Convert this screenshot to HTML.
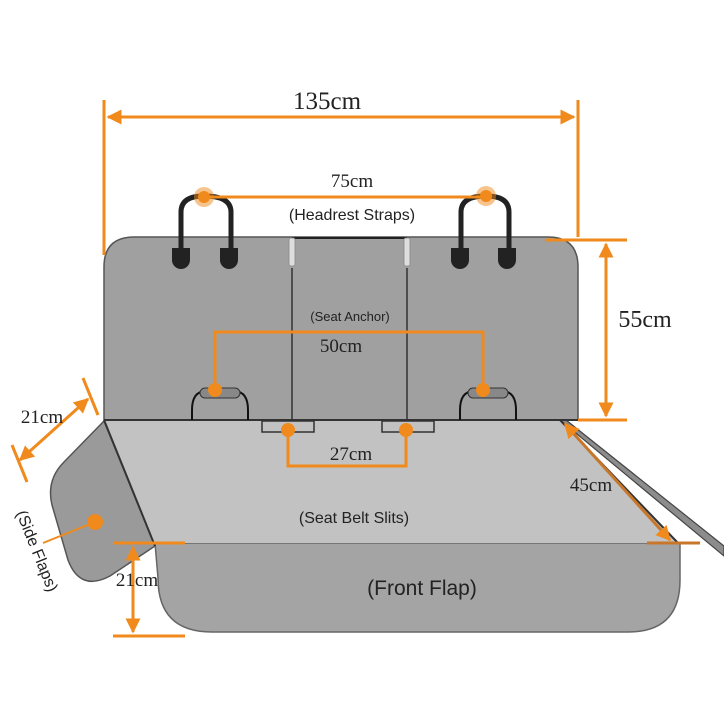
<!DOCTYPE html>
<html><head><meta charset="utf-8"><style>
html,body{margin:0;padding:0;background:#fff;width:724px;height:724px;overflow:hidden}
svg{display:block}
.s{font-family:"Liberation Serif",serif;fill:#222}
.a{font-family:"Liberation Sans","DejaVu Sans",sans-serif;fill:#222}
</style></head><body>
<svg width="724" height="724" viewBox="0 0 724 724" xmlns="http://www.w3.org/2000/svg">
<defs>
<marker id="ar" viewBox="0 0 10 10" refX="9" refY="5" markerWidth="5" markerHeight="5" orient="auto-start-reverse"><path d="M0,0 L10,5 L0,10 z" fill="#f08a1c"/></marker>
</defs>
<!-- right side thin flap -->
<polygon points="560,420 566,420 724,546 724,556" fill="#8c8c8c" stroke="#444" stroke-width="1.2"/>
<!-- left side flap -->
<path d="M104,421 L64,462 Q46,480 52,505 L68,560 Q80,592 110,576 L155,546 Z" fill="#9a9a9a" stroke="#555" stroke-width="1.5"/>
<!-- front flap -->
<path d="M155,543 L680,543 L680,580 Q680,632 628,632 L212,632 Q158,632 158,578 Z" fill="#a4a4a4" stroke="#666" stroke-width="1.5"/>
<!-- seat -->
<polygon points="104,420 560,420 678,543 155,543" fill="#c2c2c2"/>
<line x1="104" y1="420" x2="155" y2="546" stroke="#333" stroke-width="2"/>
<line x1="560" y1="420" x2="678" y2="543" stroke="#333" stroke-width="2"/>
<!-- backrest -->
<path d="M104,420 L104,267 Q104,237 134,237 L548,237 Q578,237 578,267 L578,420 Z" fill="#a0a0a0" stroke="#555" stroke-width="1.5"/>
<line x1="104" y1="420" x2="578" y2="420" stroke="#333" stroke-width="2"/>
<line x1="292" y1="238" x2="407" y2="238" stroke="#222" stroke-width="2"/>
<line x1="292" y1="268" x2="292" y2="420" stroke="#333" stroke-width="1.5"/>
<line x1="407" y1="268" x2="407" y2="420" stroke="#333" stroke-width="1.5"/>
<rect x="289" y="238" width="6" height="28" rx="2" fill="#ddd" stroke="#888" stroke-width="0.8"/>
<rect x="404" y="238" width="6" height="28" rx="2" fill="#ddd" stroke="#888" stroke-width="0.8"/>
<!-- headrest straps -->
<g fill="none" stroke="#222" stroke-width="5">
<path d="M181,252 L181,212 Q181,196 204,196 Q231,196 231,212 L231,252"/>
<path d="M461,252 L461,212 Q461,196 486,196 Q509,196 509,212 L509,252"/>
</g>
<g fill="#222">
<path d="M172,248 h18 v12 a9,9 0 0 1 -18,0 z"/>
<path d="M220,248 h18 v12 a9,9 0 0 1 -18,0 z"/>
<path d="M451,248 h18 v12 a9,9 0 0 1 -18,0 z"/>
<path d="M498,248 h18 v12 a9,9 0 0 1 -18,0 z"/>
</g>
<!-- seat anchor loops -->
<g fill="none" stroke="#111" stroke-width="2">
<path d="M192,420 L192,410 Q192,392 205,391 L235,391 Q248,392 248,410 L248,420"/>
<path d="M460,420 L460,410 Q460,392 473,391 L503,391 Q516,392 516,410 L516,420"/>
</g>
<rect x="200" y="388" width="40" height="10" rx="5" fill="#888" stroke="#333"/>
<rect x="468" y="388" width="40" height="10" rx="5" fill="#888" stroke="#333"/>
<!-- slits -->
<rect x="262" y="421" width="52" height="11" fill="none" stroke="#333" stroke-width="1.5"/>
<rect x="382" y="421" width="52" height="11" fill="none" stroke="#333" stroke-width="1.5"/>
<!-- orange dims -->
<g stroke="#f08a1c" stroke-width="3" fill="none">
<line x1="104" y1="100" x2="104" y2="255"/>
<line x1="578" y1="100" x2="578" y2="237"/>
<line x1="108" y1="117" x2="574" y2="117" marker-start="url(#ar)" marker-end="url(#ar)"/>
<line x1="204" y1="197" x2="486" y2="197"/>
<polyline points="215,390 215,332 483,332 483,390"/>
<polyline points="288,430 288,466 406,466 406,430"/>
<line x1="545" y1="240" x2="627" y2="240"/>
<line x1="578" y1="420" x2="627" y2="420"/>
<line x1="606" y1="244" x2="606" y2="416" marker-start="url(#ar)" marker-end="url(#ar)"/>
<line x1="647" y1="543" x2="700" y2="543" stroke="#c8772a"/>
<line x1="565" y1="424" x2="670" y2="540" stroke="#c8772a" marker-start="url(#ar)" marker-end="url(#ar)"/>
<line x1="83" y1="378" x2="98" y2="415"/>
<line x1="12" y1="445" x2="27" y2="482"/>
<line x1="88" y1="399" x2="20" y2="460" marker-start="url(#ar)" marker-end="url(#ar)"/>
<line x1="113" y1="543" x2="185" y2="543"/>
<line x1="113" y1="636" x2="185" y2="636"/>
<line x1="133" y1="547" x2="133" y2="632" marker-start="url(#ar)" marker-end="url(#ar)"/>
<line x1="43" y1="543" x2="95" y2="522" stroke-width="2"/>
</g>
<g fill="#f08a1c">
<circle cx="204" cy="197" r="10" opacity="0.5"/><circle cx="204" cy="197" r="6"/>
<circle cx="486" cy="196" r="10" opacity="0.5"/><circle cx="486" cy="196" r="6"/>
<circle cx="215" cy="390" r="7"/><circle cx="483" cy="390" r="7"/>
<circle cx="288" cy="430" r="7"/><circle cx="406" cy="430" r="7"/>
<circle cx="95" cy="522" r="8"/>
</g>
<!-- labels -->
<text class="s" x="327" y="109" font-size="25" text-anchor="middle">135cm</text>
<text class="s" x="352" y="187" font-size="19" text-anchor="middle">75cm</text>
<text class="a" x="352" y="220" font-size="16" text-anchor="middle">(Headrest Straps)</text>
<text class="a" x="350" y="321" font-size="13" text-anchor="middle">(Seat Anchor)</text>
<text class="s" x="341" y="352" font-size="19" text-anchor="middle">50cm</text>
<text class="s" x="351" y="460" font-size="19" text-anchor="middle">27cm</text>
<text class="s" x="645" y="327" font-size="24" text-anchor="middle">55cm</text>
<text class="s" x="591" y="491" font-size="19" text-anchor="middle">45cm</text>
<text class="a" x="354" y="523" font-size="16" text-anchor="middle">(Seat Belt Slits)</text>
<text class="a" x="422" y="595" font-size="21" text-anchor="middle">(Front Flap)</text>
<text class="s" x="42" y="423" font-size="19" text-anchor="middle">21cm</text>
<text class="s" x="137" y="586" font-size="19" text-anchor="middle">21cm</text>
<text class="a" x="0" y="0" font-size="16" transform="translate(16,513) rotate(68)">(Side Flaps)</text>
</svg>
</body></html>
